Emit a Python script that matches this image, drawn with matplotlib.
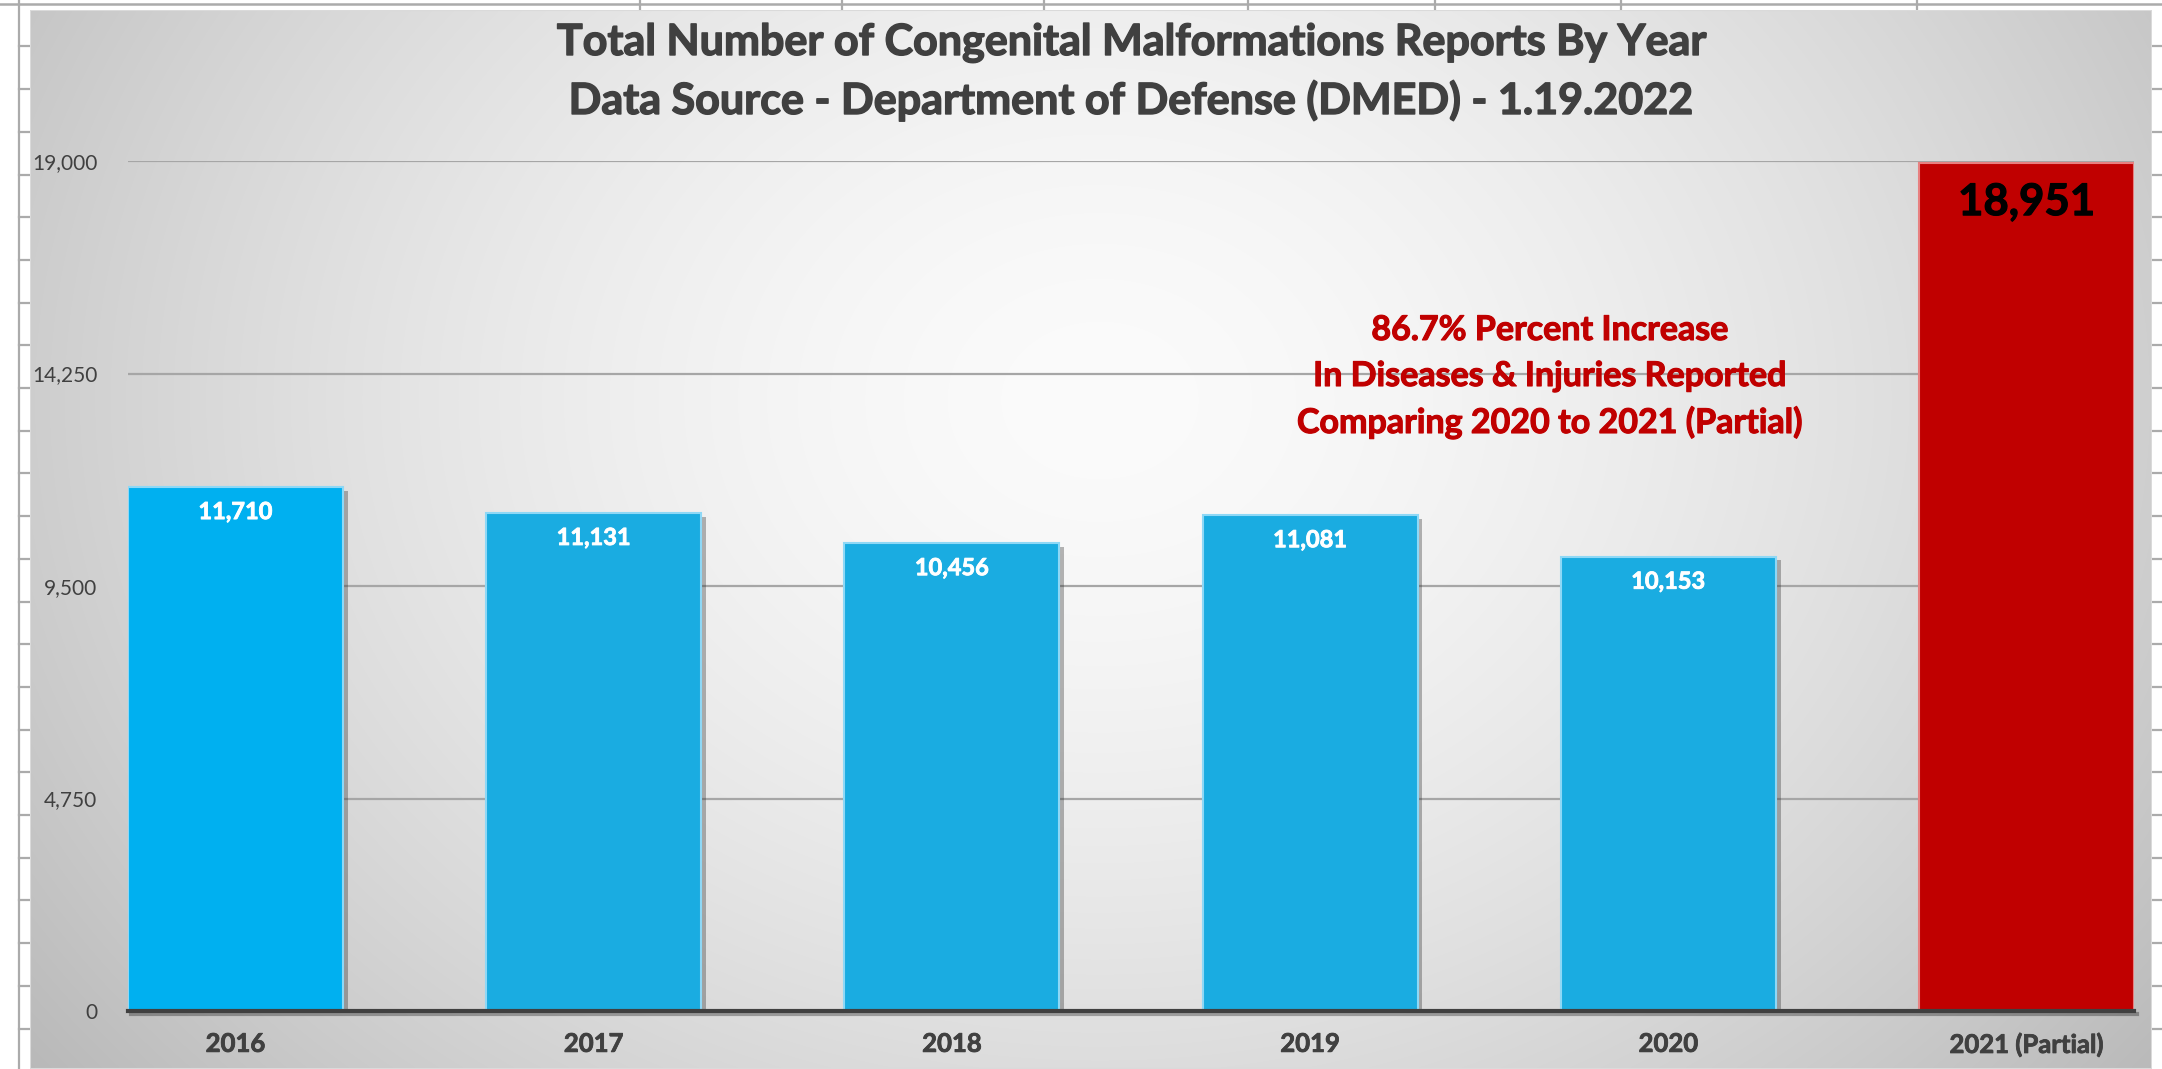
import numpy as np
import matplotlib
matplotlib.use('Agg')
import matplotlib.pyplot as plt
from matplotlib import patheffects as pe
from matplotlib.lines import Line2D
from matplotlib.patches import Rectangle

# ---------------- data ----------------
categories = ['2016', '2017', '2018', '2019', '2020', '2021 (Partial)']
values = [11710, 11131, 10456, 11081, 10153, 18951]
y_ticks = [0, 4750, 9500, 14250, 19000]
title_lines = ['Total Number of Congenital Malformations Reports By Year',
               'Data Source - Department of Defense (DMED) - 1.19.2022']
note_lines = ['86.7% Percent Increase',
              'In Diseases & Injuries Reported',
              'Comparing 2020 to 2021 (Partial)']

# ---------------- style ----------------
bar_colors = ['#00B0F0', '#1AACE1', '#1AACE1', '#1AACE1', '#1AACE1', '#C00000']
edge_colors = ['#8ED8F6', '#8ED8F6', '#8ED8F6', '#8ED8F6', '#8ED8F6', '#E88080']
W, H = 2162, 1069
DPI = 100
plt.rcParams['font.family'] = ['Lato', 'DejaVu Sans']

fig = plt.figure(figsize=(W / DPI, H / DPI), dpi=DPI, facecolor='white')


def fx(px):
    return px / W


def fy(py):
    return 1 - py / H


def bold_fx(color, lw):
    return [pe.withStroke(linewidth=lw, foreground=color)]


# spreadsheet grid behind the chart
grid_c = '#ABABAB'
fig.add_artist(Line2D([0, 1], [fy(3.7)] * 2, color=grid_c, lw=1.8,
                      transform=fig.transFigure, zorder=0))
k = 1
while 3.7 + k * 42.7 < H:
    y = 3.7 + k * 42.7
    fig.add_artist(Line2D([fx(19), 1], [fy(y)] * 2, color=grid_c, lw=1.6,
                          transform=fig.transFigure, zorder=0))
    k += 1
for x in [19, 640, 842, 1044, 1248, 1435, 1621, 1917]:
    fig.add_artist(Line2D([fx(x)] * 2, [0, 1], color=grid_c, lw=1.6,
                          transform=fig.transFigure, zorder=0))

# chart area with radial gradient
x0, x1, y0, y1 = 30, 2152, 10, 1069
bg = fig.add_axes([fx(x0), fy(y1), fx(x1) - fx(x0), fy(y0) - fy(y1)], zorder=1)
xs = np.linspace(x0, x1, 600)
ys = np.linspace(y0, y1, 300)
XX, YY = np.meshgrid(xs, ys)
cx, cy, rx, ry = 1100, 400, 1250, 1000
d = np.sqrt(((XX - cx) / rx) ** 2 + ((YY - cy) / ry) ** 2)
val = (251 - 58 * np.clip(d, 0, 1.2) ** 1.6) / 255.0
img = np.dstack([val, val, val])
bg.imshow(img, extent=[0, 1, 0, 1], aspect='auto', origin='upper', interpolation='bilinear')
bg.set_xlim(0, 1)
bg.set_ylim(0, 1)
bg.axis('off')
bg.add_patch(Rectangle((0, 0), 1, 1, transform=bg.transAxes, fill=False,
                       edgecolor='#DADADA', lw=1.5))

# plot area
ax = fig.add_axes([fx(128), fy(1011), fx(2134) - fx(128), (1011 - 161) / H], zorder=2)
ax.patch.set_alpha(0)
xpos = np.arange(len(categories))
bars = ax.bar(xpos, values, width=0.6, color=bar_colors, edgecolor=edge_colors,
              linewidth=1.5, zorder=3)
for b in bars:
    b.set_path_effects([pe.SimplePatchShadow(offset=(3.5, -2.5), shadow_rgbFace='#303030', alpha=0.35),
                        pe.Normal()])

ax.set_xlim(-0.3, len(categories) - 0.7)
ax.set_ylim(0, 19000)
ax.set_yticks(y_ticks)
ax.set_yticklabels([f'{t:,}' for t in y_ticks])
ax.yaxis.grid(True, color='#A6A6A6', lw=1.6)
ax.set_axisbelow(True)
ax.set_xticks(xpos)
ax.set_xticklabels(categories, fontsize=18.5, fontweight='bold', color='#404040')
for lab in ax.get_xticklabels():
    lab.set_path_effects(bold_fx('#404040', 0.6))
ax.tick_params(axis='x', length=0, pad=15)
ax.tick_params(axis='y', length=0, pad=22, labelsize=15, labelcolor='#404040')
for s in ['left', 'right', 'top']:
    ax.spines[s].set_visible(False)
ax.spines['bottom'].set_color('#404040')
ax.spines['bottom'].set_linewidth(3)
ax.spines['bottom'].set_zorder(4)
ax.spines['bottom'].set_path_effects([pe.SimpleLineShadow(offset=(2, -2), alpha=0.3), pe.Normal()])

# value labels
for i, v in enumerate(values):
    if i == len(values) - 1:
        ax.annotate(f'{v:,}', (i, v), xytext=(0, -37.4), textcoords='offset points',
                    ha='center', va='baseline', color='black', fontsize=31.5,
                    fontweight='bold', zorder=5, path_effects=bold_fx('black', 0.8))
    else:
        ax.annotate(f'{v:,}', (i, v), xytext=(0, -23), textcoords='offset points',
                    ha='center', va='baseline', color='white', fontsize=17,
                    fontweight='bold', zorder=5, path_effects=bold_fx('white', 0.6))

# title
for t, yy in zip(title_lines, [55, 114]):
    fig.text(fx(1131), fy(yy), t, ha='center', va='baseline', fontsize=31,
             fontweight='bold', color='#404040', zorder=5,
             path_effects=bold_fx('#404040', 1.0))

# annotation
for t, yy in zip(note_lines, [340, 386, 433]):
    fig.text(fx(1550), fy(yy), t, ha='center', va='baseline', fontsize=24.5,
             fontweight='bold', color='#C00000', zorder=5,
             path_effects=bold_fx('#C00000', 0.8))

fig.savefig('out.png', dpi=DPI)
